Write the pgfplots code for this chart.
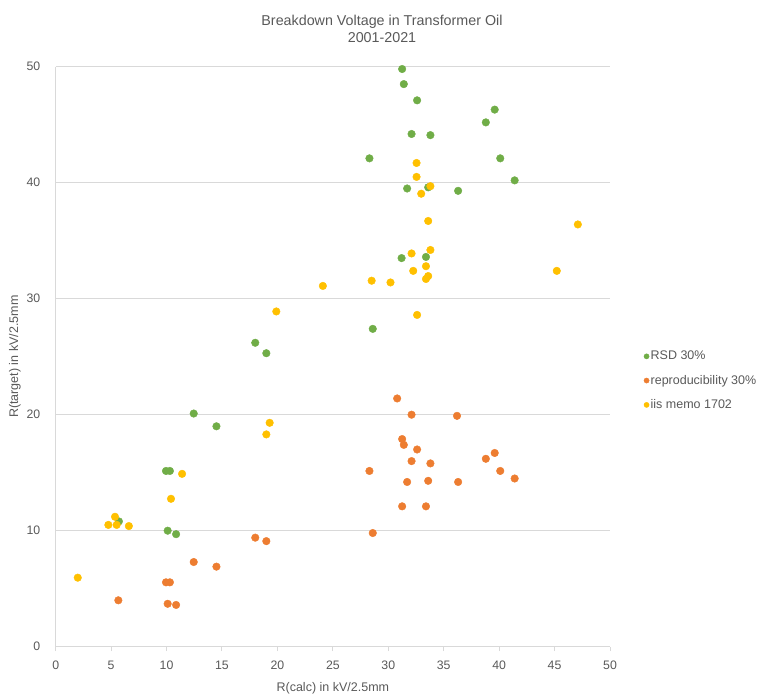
\documentclass[border=0pt]{standalone}
\usepackage{fontspec}
\setmainfont{Liberation Sans}
\usepackage{pgfplots}
\pgfplotsset{compat=1.18}
\definecolor{cgreen}{HTML}{70AD47}
\definecolor{corange}{HTML}{ED7D31}
\definecolor{cyellow}{HTML}{FFC000}
\definecolor{ctext}{HTML}{595959}
\definecolor{cgrid}{HTML}{D9D9D9}
\begin{document}
\begin{tikzpicture}
\begin{axis}[
  scale only axis, width=554.3pt, height=580pt,
  xmin=0, xmax=50, ymin=0, ymax=50,
  xtick={0,5,...,50}, ytick={0,10,...,50},
  axis x line*=bottom, axis y line*=left,
  axis line style={cgrid, line width=1pt, -},
  ymajorgrids, grid style={cgrid, line width=1pt},
  tick align=outside, major tick length=4.5pt,
  x tick style={cgrid, line width=1pt},
  y tick style={draw=none},
  /pgf/number format/assume math mode=true,
  tick label style={font=\fontsize{12.3}{14}\selectfont, text=ctext},
  xticklabel style={inner sep=0pt, anchor=north, yshift=-10pt},
  yticklabel style={inner sep=0pt, anchor=east, xshift=-10.7pt},
  xlabel={R(calc) in kV/2.5mm},
  ylabel={R(target) in kV/2.5mm},
  label style={font=\fontsize{12.5}{14}\selectfont, text=ctext},
  xlabel style={at={(axis description cs:0.5,-0.0776)}, anchor=base, inner sep=0pt},
  ylabel style={at={(axis description cs:-0.0734,0.5)}, anchor=center, inner sep=0pt},
  clip=false,
  legend cell align=left,
  legend image code/.code={\draw[#1, mark size=2.6pt] plot coordinates {(0pt,0pt)};},
  legend style={at={(axis description cs:1.0555,0.4586)}, anchor=west, draw=none, fill=none,
    font=\fontsize{12.5}{14}\selectfont, text=ctext, row sep=10.8pt,
    nodes={inner sep=1.5pt}},
]
\addplot[only marks, mark=*, mark size=3.8pt, mark options={fill=cgreen, draw=cgreen}] coordinates {
(31.25,49.8)(31.4,48.5)(32.6,47.1)(39.6,46.3)(38.8,45.2)(32.1,44.2)(33.8,44.1)(28.3,42.1)(40.1,42.1)(41.4,40.2)(31.7,39.5)(33.6,39.6)(36.3,39.3)(31.2,33.5)(33.4,33.6)(28.6,27.4)(18.0,26.2)(19.0,25.3)(12.45,20.1)(14.5,19.0)(9.95,15.15)(10.3,15.15)(10.1,10.0)(10.86,9.7)(5.7,10.8)
};
\addlegendentry{RSD 30\%}
\addplot[only marks, mark=*, mark size=3.8pt, mark options={fill=corange, draw=corange}] coordinates {
(30.8,21.4)(32.1,20.0)(36.2,19.9)(31.25,17.9)(31.4,17.4)(32.6,17.0)(32.1,16.0)(33.8,15.8)(38.8,16.2)(39.6,16.7)(28.3,15.15)(40.1,15.15)(41.4,14.5)(31.7,14.2)(33.6,14.3)(36.3,14.2)(31.25,12.1)(33.4,12.1)(28.6,9.8)(18.0,9.4)(19.0,9.1)(12.45,7.3)(14.5,6.9)(9.95,5.55)(10.3,5.55)(5.65,4.0)(10.1,3.7)(10.86,3.6)
};
\addlegendentry{reproducibility 30\%}
\addplot[only marks, mark=*, mark size=3.8pt, mark options={fill=cyellow, draw=cyellow}] coordinates {
(32.55,41.7)(32.55,40.5)(33.8,39.7)(32.97,39.05)(33.6,36.7)(47.1,36.4)(33.8,34.2)(32.1,33.9)(33.4,32.8)(32.25,32.4)(45.2,32.4)(33.6,31.95)(33.4,31.7)(28.5,31.55)(30.2,31.4)(24.1,31.1)(19.9,28.9)(32.6,28.6)(19.3,19.3)(19.0,18.3)(11.4,14.9)(10.4,12.75)(5.35,11.2)(4.75,10.5)(5.5,10.5)(6.6,10.4)(1.99,5.95)
};
\addlegendentry{iis memo 1702}
\end{axis}
\node[anchor=base, font=\fontsize{14.3}{16}\selectfont, text=ctext] at (326.3pt,621pt) {Breakdown Voltage in Transformer Oil};
\node[anchor=base, font=\fontsize{14.3}{16}\selectfont, text=ctext] at (326.3pt,604.4pt) {2001-2021};
\pgfresetboundingbox
\path[use as bounding box] (-55.7pt,-48.3pt) rectangle (702.3pt,646.7pt);
\end{tikzpicture}
\end{document}
